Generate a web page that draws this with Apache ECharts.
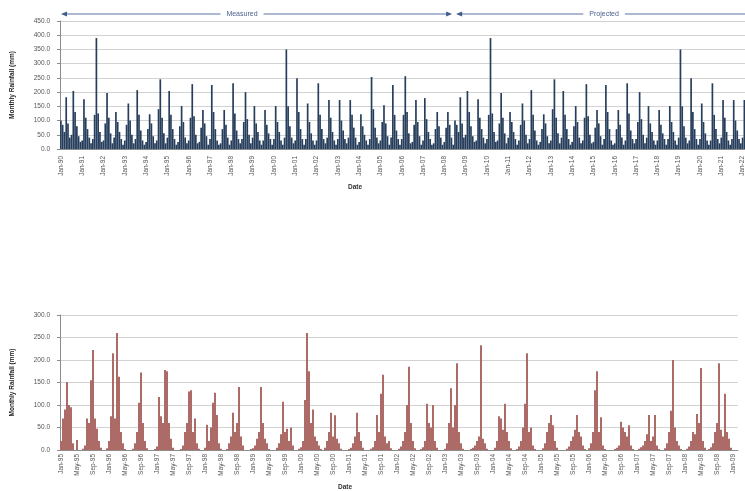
<!DOCTYPE html>
<html>
<head>
<meta charset="utf-8">
<script src="https://cdn.jsdelivr.net/npm/echarts@6/dist/echarts.min.js"></script>
<style>
  html, body { margin: 0; padding: 0; background: #fff; }
  #main { width: 745px; height: 491px; }
</style>
</head>
<body>
<div id="main"></div>
<script>
// ---- data ----
const months = ['Jan', 'Feb', 'Mar', 'Apr', 'May', 'Jun', 'Jul', 'Aug', 'Sep', 'Oct', 'Nov', 'Dec'];
const topYears = ['90', '91', '92', '93', '94', '95', '96', '97', '98', '99', '00', '01', '02', '03', '04', '05', '06',
  '07', '08', '09', '10', '11', '12', '13', '14', '15', '16', '17', '18', '19', '20', '21', '22'];
const topTicks = [0, 50, 100, 150, 200, 250, 300, 350, 400, 450];

// monthly rainfall (mm), measured period
const measured = [
  100, 85, 60, 182, 90, 40,
  50, 204, 130, 80, 45, 25,
  30, 175, 110, 70, 40, 20,
  35, 120, 390, 125, 60, 25,
  30, 90, 197, 110, 55, 20,
  40, 130, 95, 60, 35, 15,
  30, 85, 160, 100, 50, 20,
  35, 207, 120, 65, 30, 15,
  25, 70, 122, 90, 45, 20,
  30, 140, 245, 110, 55, 20,
  40, 204, 120, 70, 35, 15,
  25, 80, 151, 95, 40, 20,
  30, 110, 228, 115, 50, 20,
  25, 75, 137, 90, 45, 15,
  35, 225, 130, 70, 30, 15,
  20, 70, 137, 85, 40, 15,
  30, 231, 125, 65, 35, 20,
  35, 95, 200, 105, 50, 20,
  40, 151, 90, 60, 30, 15,
  30, 137, 85, 55, 35, 15,
  35, 151, 95, 60, 30, 15,
  40, 350, 150, 80, 40, 20,
  30, 249, 130, 70, 35, 15,
  35, 160, 95, 55, 30, 15,
  30, 231, 120, 70, 35, 20,
  40, 172, 110, 60, 30, 15,
  35, 172, 100, 65, 35, 20,
  40, 172, 120, 75, 40, 15,
  25, 122, 80, 50, 30, 15,
  35, 253, 140, 75, 40, 20,
  30, 95, 154, 90, 45, 15,
  40, 225, 120, 65, 35, 15,
  35, 120, 256, 130, 55, 20,
  25, 85, 172, 95, 45, 15,
  30, 179, 105, 60, 35, 15,
  20, 70, 130, 80, 40, 15,
  25, 75, 130, 85, 40, 15
];

// monthly rainfall (mm), projected period (visible part)
const projected = [
  100, 85, 60, 182, 90, 40,
  50, 204, 130, 80, 45, 25,
  30, 175, 110, 70, 40, 20,
  35, 120, 390, 125, 60, 25,
  30, 90, 197, 110, 55, 20,
  40, 130, 95, 60, 35, 15,
  30, 85, 160, 100, 50, 20,
  35, 207, 120, 65, 30, 15,
  25, 70, 122, 90, 45, 20,
  30, 140, 245, 110, 55, 20,
  40, 204, 120, 70, 35, 15,
  25, 80, 151, 95, 40, 20,
  30, 110, 228, 115, 50, 20,
  25, 75, 137, 90, 45, 15,
  35, 225, 130, 70, 30, 15,
  20, 70, 137, 85, 40, 15,
  30, 231, 125, 65, 35, 20,
  35, 95, 200, 105, 50, 20,
  40, 151, 90, 60, 30, 15,
  30, 137, 85, 55, 35, 15,
  35, 151, 95, 60, 30, 15,
  40, 350, 150, 80, 40, 20,
  30, 249, 130, 70, 35, 15,
  35, 160, 95, 55, 30, 15,
  30, 231, 120, 70, 35, 20,
  40, 172, 110, 60, 30, 15,
  35, 172, 100, 65, 35, 20,
  40, 172, 120, 75, 40, 15,
  25, 122, 80, 50, 30, 15
];

const bottomTicks = ['Jan-95', 'May-95', 'Sep-95', 'Jan-96', 'May-96', 'Sep-96', 'Jan-97', 'May-97', 'Sep-97',
  'Jan-98', 'May-98', 'Sep-98', 'Jan-99', 'May-99', 'Sep-99', 'Jan-00', 'May-00', 'Sep-00', 'Jan-01', 'May-01',
  'Sep-01', 'Jan-02', 'May-02', 'Sep-02', 'Jan-03', 'May-03', 'Sep-03', 'Jan-04', 'May-04', 'Sep-04', 'Jan-05',
  'May-05', 'Sep-05', 'Jan-06', 'May-06', 'Sep-06', 'Jan-07', 'May-07', 'Sep-07', 'Jan-08', 'May-08', 'Sep-08',
  'Jan-09'];

// lower chart rainfall (mm), 8 bars between two date labels
const lowerRain = [
  20, 70, 90, 151, 100, 95, 15, 0, 22, 0, 0, 3,
  10, 70, 60, 155, 222, 70, 47, 20, 5, 0, 0, 4,
  20, 75, 215, 70, 260, 163, 40, 15, 2, 0, 0, 0,
  3, 15, 40, 105, 172, 60, 20, 4, 0, 0, 0, 2,
  8, 118, 75, 60, 178, 175, 60, 25, 5, 0, 0, 0,
  2, 10, 40, 60, 130, 133, 40, 70, 15, 3, 0, 0,
  5, 56, 20, 50, 105, 127, 78, 15, 3, 0, 0, 2,
  15, 30, 83, 40, 60, 140, 30, 10, 0, 0, 0, 2,
  4, 10, 25, 40, 140, 60, 25, 15, 2, 0, 0, 0,
  5, 15, 35, 107, 40, 47, 20, 50, 10, 0, 0, 3,
  6, 20, 111, 260, 175, 60, 90, 30, 20, 10, 2, 0,
  5, 20, 40, 83, 30, 77, 25, 15, 3, 0, 0, 0,
  2, 5, 15, 30, 83, 40, 20, 5, 0, 0, 0, 3,
  6, 20, 78, 40, 125, 167, 30, 15, 20, 4, 0, 0,
  0, 3, 8, 20, 40, 100, 185, 60, 20, 4, 0, 0,
  2, 6, 20, 103, 60, 50, 100, 20, 5, 0, 0, 0,
  3, 15, 60, 137, 50, 100, 193, 40, 15, 3, 0, 0,
  0, 2, 5, 10, 20, 30, 233, 25, 15, 3, 0, 0,
  0, 5, 20, 75, 70, 45, 103, 40, 20, 4, 0, 0,
  2, 8, 20, 50, 103, 215, 40, 50, 10, 2, 0, 0,
  0, 4, 15, 40, 60, 78, 55, 20, 5, 0, 0, 0,
  0, 3, 8, 20, 30, 45, 78, 40, 30, 10, 2, 0,
  4, 15, 40, 133, 175, 40, 73, 10, 2, 0, 0, 0,
  0, 2, 5, 10, 63, 50, 40, 30, 55, 10, 2, 0,
  0, 3, 6, 10, 20, 35, 78, 20, 30, 78, 10, 2,
  0, 0, 4, 15, 40, 87, 200, 50, 20, 10, 2, 0,
  0, 3, 8, 20, 40, 35, 80, 60, 182, 20, 5, 0,
  2, 6, 15, 40, 60, 193, 45, 30, 125, 40, 25, 5,
  0, 0, 0
];

const topCats = [];
topYears.forEach(y => months.forEach(m => topCats.push(m + '-' + y)));
const lowerCats = lowerRain.map((v, i) => bottomTicks[Math.floor(i / 8)] + (i % 8 ? '/' + (i % 8) : ''));

const axisGrey = '#8c8c8c';
const labelStyle = { fontSize: 6.5, color: '#555', fontFamily: 'Liberation Sans' };
const nameStyle = { fontSize: 6.5, fontWeight: 'bold', color: '#222', fontFamily: 'Liberation Sans' };

const valueAxis = (gridIndex, max) => ({
  type: 'value',
  gridIndex,
  min: 0,
  max,
  interval: 50,
  name: 'Monthly Rainfall (mm)',
  nameLocation: 'middle',
  nameGap: 44,
  nameTextStyle: nameStyle,
  axisLine: { show: true, lineStyle: { color: axisGrey } },
  axisTick: { show: true, length: 3, lineStyle: { color: axisGrey } },
  axisLabel: { ...labelStyle, margin: 10, formatter: value => value.toFixed(1) },
  splitLine: { lineStyle: { color: '#d2d2d2' } },
});

const chart = echarts.init(document.getElementById('main'));
chart.setOption({
  animation: false,
  grid: [
    { left: 60, right: -18, top: 21, height: 128, outerBoundsMode: 'none' },
    { left: 60, right: 7, top: 315, height: 135, outerBoundsMode: 'none' },
  ],
  xAxis: [
    {
      type: 'category',
      gridIndex: 0,
      data: topCats,
      axisLine: { lineStyle: { color: axisGrey } },
      axisTick: { show: false },
      axisLabel: { ...labelStyle, interval: 11, rotate: 90, margin: 7 },
    },
    {
      type: 'category',
      gridIndex: 1,
      data: lowerCats,
      axisLine: { lineStyle: { color: axisGrey } },
      axisTick: { show: false },
      axisLabel: { ...labelStyle, interval: 7, rotate: 90, margin: 4 },
    },
  ],
  yAxis: [valueAxis(0, topTicks[topTicks.length - 1]), valueAxis(1, 300)],
  series: [
    {
      type: 'bar',
      xAxisIndex: 0,
      yAxisIndex: 0,
      data: measured.concat(projected),
      barCategoryGap: '5%',
      itemStyle: { color: '#263e5c' },
      silent: true,
    },
    {
      type: 'bar',
      xAxisIndex: 1,
      yAxisIndex: 1,
      data: lowerRain,
      barCategoryGap: '0%',
      itemStyle: { color: '#ad6b67' },
      silent: true,
    },
  ],
});

// measured / projected arrows above the upper chart
const px = i => chart.convertToPixel({ xAxisIndex: 0 }, i);
const half = (px(1) - px(0)) / 2;
const xStart = px(0) - half;
const xSplit = px(measured.length) - half;
const y = 14;
const arrowColor = '#3f5b8c';
const head = (tipX, dir) => ({
  type: 'polygon',
  shape: { points: [[tipX, y], [tipX + dir * 6, y - 2.5], [tipX + dir * 6, y + 2.5]] },
  style: { fill: arrowColor },
});
const label = (text, x, yy, extra) => ({
  type: 'text',
  z: 10,
  style: Object.assign({
    text, x, y: yy, align: 'center', verticalAlign: 'middle',
    fontSize: 7, fontFamily: 'Liberation Sans', fill: '#4a5f8c',
  }, extra),
});

chart.setOption({
  graphic: [
    { type: 'line', shape: { x1: xStart + 4, y1: y, x2: xSplit - 4, y2: y }, style: { stroke: '#5b73a0', lineWidth: 1 } },
    { type: 'line', shape: { x1: xSplit + 4, y1: y, x2: 745, y2: y }, style: { stroke: '#5b73a0', lineWidth: 1 } },
    head(xStart + 1, 1),
    head(xSplit - 2, -1),
    head(xSplit + 2, 1),
    label('Measured', px(102), y, { backgroundColor: '#fff', padding: [1, 6] }),
    label('Projected', px(306), y, { backgroundColor: '#fff', padding: [1, 6] }),
    label('Date', 355, 187, { fontSize: 6.5, fontWeight: 'bold', fill: '#333' }),
    label('Date', 345, 487, { fontSize: 6.5, fontWeight: 'bold', fill: '#333' }),
  ],
});
</script>
</body>
</html>
